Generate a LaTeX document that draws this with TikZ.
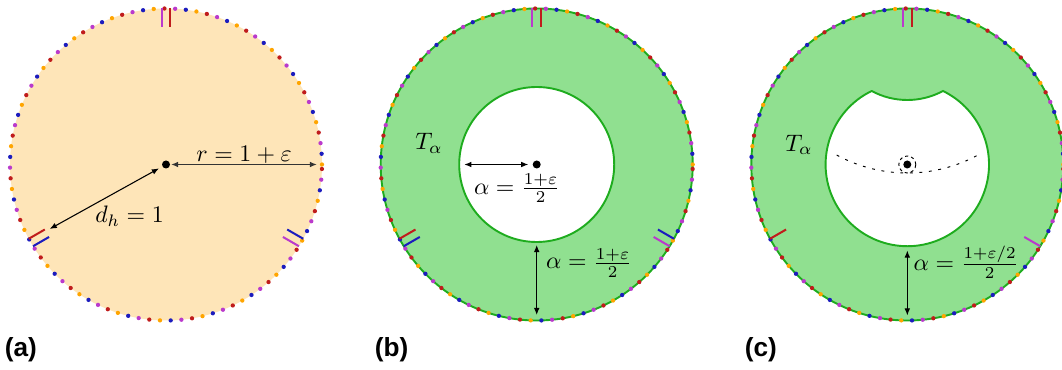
\documentclass[tikz,border=0pt]{standalone}
\usepackage{fontspec}
\newfontfamily\panelfont{Liberation Sans}
\usetikzlibrary{calc,arrows.meta}
\definecolor{dc0}{RGB}{255,165,0}
\definecolor{dc1}{RGB}{28,28,190}
\definecolor{dc2}{RGB}{186,58,204}
\definecolor{dc3}{RGB}{192,28,28}
\definecolor{peach}{RGB}{254,229,184}
\definecolor{lgreen}{RGB}{144,224,144}
\definecolor{dgreen}{RGB}{30,172,30}
\tikzset{
  dim/.style={{Latex[length=3pt,width=2.4pt]}-{Latex[length=3pt,width=2.4pt]}, line width=0.45pt},
  panel/.style={font=\panelfont\fontsize{11}{13}\selectfont\bfseries, inner sep=0pt},
  lab/.style={inner sep=0pt},
  rimline/.style={line width=0.85pt},
  ringline/.style={draw=dgreen, line width=0.8pt},
  guide/.style={dash pattern=on 1.2pt off 2.8pt, line width=0.4pt},
}
\newcommand\rimdots[1]{%
  \foreach \k in {0,...,91}{%
    \pgfmathtruncatemacro\c{mod(\k,4)}%
    \fill[fill=dc\c] ($(#1)+(\k*3.938:156)$) circle[radius=2.15];}}
\newcommand\rimmark[4]{%
  \draw[rimline, #3] ($(#1)+(#2:156)+(#2+90:#4)$) -- ($(#1)+(#2:137.5)+(#2+90:#4)$);}
\begin{document}
\begin{tikzpicture}[x=0.42pt,y=0.42pt]
\useasboundingbox (0,0) rectangle (1062,369);
% ---------------- (a)
\coordinate (A) at (166,204.5);
\fill[peach] (A) circle[radius=156];
\rimdots{A}
\rimmark{A}{90}{dc2}{4.3}
\rimmark{A}{90}{dc3}{-4.3}
\rimmark{A}{210}{dc1}{4.3}
\rimmark{A}{210}{dc3}{-4.3}
\rimmark{A}{330}{dc1}{4.3}
\rimmark{A}{330}{dc2}{-4.3}
\fill (A) circle[radius=4];
\coordinate (ar1) at ($(A)+(5,0)$);
\coordinate (ar2) at ($(A)+(151,0)$);
\draw[dim, line width=0.65pt, black!80] (ar1) -- (ar2);
\coordinate (ad1) at ($(A)+(209:8)$);
\coordinate (ad2) at ($(A)+(209:133)$);
\draw[dim] (ad1) -- (ad2);
\node[lab] (rlab) at (244,214.5) {$r = 1+\varepsilon$};
\node[lab] (dlab) at (129.5,153) {$d_h = 1$};
\node[panel] (pa) at (20.8,19.5) {(a)};
% ---------------- (b)
\coordinate (B) at (536.7,204.5);
\fill[lgreen] (B) circle[radius=156];
\draw[ringline] (B) circle[radius=156];
\rimdots{B}
\rimmark{B}{90}{dc2}{4.3}
\rimmark{B}{90}{dc3}{-4.3}
\rimmark{B}{210}{dc1}{4.3}
\rimmark{B}{210}{dc3}{-4.3}
\rimmark{B}{330}{dc1}{4.3}
\rimmark{B}{330}{dc2}{-4.3}
\filldraw[ringline, fill=white] (B) circle[radius=77.5];
\fill (B) circle[radius=4];
\coordinate (bh1) at ($(B)+(-72.4,0)$);
\coordinate (bh2) at ($(B)+(-8.4,0)$);
\draw[dim] (bh1) -- (bh2);
\coordinate (bv1) at ($(B)+(0,-80.5)$);
\coordinate (bv2) at ($(B)+(0,-150.5)$);
\draw[dim] (bv1) -- (bv2);
\node[lab] (btl) at (429,225.7) {$T_\alpha$};
\node[lab] (bal1) at (517,180.7) {$\alpha = \frac{1+\varepsilon}{2}$};
\node[lab] (bal2) at (589,106) {$\alpha = \frac{1+\varepsilon}{2}$};
\node[panel] (pb) at (391.7,19.5) {(b)};
% ---------------- (c)
\coordinate (C) at (907.3,204.5);
\coordinate (N) at (907.3,344);
\fill[lgreen] (C) circle[radius=156];
\draw[ringline] (C) circle[radius=156];
\rimdots{C}
\rimmark{C}{90}{dc2}{4.3}
\rimmark{C}{90}{dc3}{-4.3}
\rimmark{C}{210}{dc3}{-4.3}
\rimmark{C}{330}{dc2}{-4.3}
\filldraw[ringline, fill=white, line join=miter]
  ($(C)+(115.87:81.7)$) arc[start angle=115.87, end angle=424.13, radius=81.7]
  arc[start angle=298.38, end angle=241.62, radius=75] -- cycle;
\draw[guide] ($(N)+(241.5:148)$) arc[start angle=241.5, end angle=298.5, radius=148];
\draw[dash pattern=on 1.3pt off 1.3pt, line width=0.4pt] (C) circle[radius=8.5];
\fill (C) circle[radius=4];
\coordinate (cv1) at ($(C)+(0,-86)$);
\coordinate (cv2) at ($(C)+(0,-151)$);
\draw[dim] (cv1) -- (cv2);
\node[lab] (ctl) at (799,224.3) {$T_\alpha$};
\node[lab] (cal) at (966,106.5) {$\alpha = \frac{1+\varepsilon/2}{2}$};
\node[panel] (pc) at (760.8,19.5) {(c)};
\end{tikzpicture}
\end{document}
